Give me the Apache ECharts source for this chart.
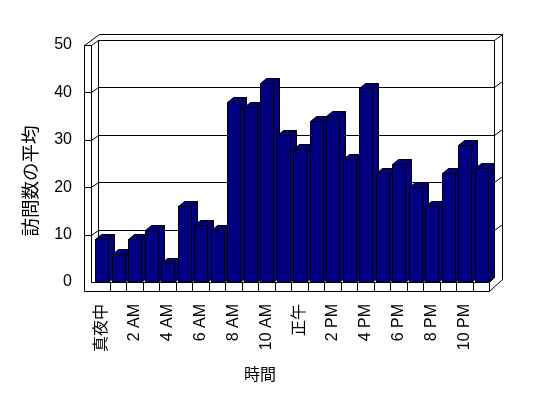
<!DOCTYPE html>
<html>
<head>
<meta charset="utf-8">
<script src="https://cdn.jsdelivr.net/npm/echarts@6/dist/echarts.min.js"></script>
<style>html,body{margin:0;padding:0;background:#fff}#c{width:548px;height:398px}</style>
</head>
<body>
<div id="c"></div>
<script>
const hours = ['真夜中','1 AM','2 AM','3 AM','4 AM','5 AM','6 AM','7 AM','8 AM','9 AM','10 AM','11 AM',
               '正午','1 PM','2 PM','3 PM','4 PM','5 PM','6 PM','7 PM','8 PM','9 PM','10 PM','11 PM'];
const visits = [9,6,9,11,4,16,12,11,38,37,42,31,28,34,35,26,41,23,25,20,16,23,29,24];
const yTicks = [0,10,20,30,40,50];
const xTitle = '時間';
const yTitle = '訪問数の平均';

const FONT = "'Liberation Sans','Noto Sans CJK JP',sans-serif";
const chart = echarts.init(document.getElementById('c'), null, {renderer:'canvas'});

function c(v){ return Math.round(v) + 0.5; }
function line(x1,y1,x2,y2){
  return {type:'line', shape:{x1:c(x1),y1:c(y1),x2:c(x2),y2:c(y2)}, style:{stroke:'#000', lineWidth:1}};
}

function renderFrame(params, api){
  const cs = params.coordSys;
  const L = cs.x, R = cs.x + cs.width, T = cs.y, B = cs.y + cs.height;
  const xo = L - 9, xi = L - 2;
  const dx = 7, dy = -5;
  const bl = xi + dx, br = R + 5;
  const ro = R + 13;
  const ch = [];
  ch.push(line(xo, T, xo, B+9));
  ch.push(line(xi, T, xi, B));
  ch.push(line(xo, T, xi, T));
  ch.push(line(xo, T, bl+1, T-11));
  ch.push(line(xi, T, bl, T+dy));
  ch.push(line(bl+1, T-11, ro, T-11));
  ch.push(line(bl, T+dy, br, T+dy));
  ch.push(line(br, T+dy, ro, T-11));
  ch.push(line(bl, T+dy, bl, B+dy));
  ch.push(line(br, T+dy, br, B+dy));
  ch.push(line(ro, T-11, ro, B-3));
  yTicks.forEach(function(v){
    if (v === 0 || v === 50) return;
    const y = api.coord([0, v])[1];
    ch.push(line(xo, y, xi, y));
    ch.push(line(xi, y, bl, y+dy));
    ch.push(line(bl, y+dy, br, y+dy));
    ch.push(line(br, y+dy, ro, y+dy-6));
  });
  ch.push(line(xi, B, R, B));
  ch.push(line(xo, B+9, R, B+9));
  ch.push(line(R, B, R, B+9));
  ch.push(line(bl, B+dy, br, B+dy));
  ch.push(line(R, B, br, B+dy));
  ch.push(line(R, B+9, ro, B-3));
  const n = hours.length;
  for (let i = 1; i < n; i++){
    const x = L + i * cs.width / n;
    ch.push(line(x, B, x, B+9));
  }
  return {type:'group', children:ch};
}

function renderBar(params, api){
  const i = api.value(0), v = api.value(1);
  const p = api.coord([i, v]);
  const b = api.coord([i, 0]);
  const w = 13, dx = 6, dy = -5;
  const fl = c(p[0] - 6), fr = fl + w, top = c(p[1]), base = c(b[1]);
  const st = {fill:'#000080', stroke:'#000', lineWidth:1};
  return {type:'group', children:[
    {type:'polygon', shape:{points:[[fr,top],[fr+dx,top+dy],[fr+dx,base+dy],[fr,base]]}, style:st},
    {type:'polygon', shape:{points:[[fl,top],[fl+dx,top+dy],[fr+dx,top+dy],[fr,top]]}, style:st},
    {type:'rect', shape:{x:fl, y:top, width:w, height:base-top}, style:st}
  ]};
}

chart.setOption({
  animation:false,
  backgroundColor:'#fff',
  grid:{left:93, right:59, top:45, bottom:116},
  xAxis:{type:'category', data:hours, boundaryGap:true,
    axisLine:{show:false}, axisTick:{show:false}, splitLine:{show:false},
    axisLabel:{interval:1, rotate:90, margin:22, color:'#000', fontSize:16, fontFamily:FONT}},
  yAxis:{type:'value', min:0, max:50, interval:10,
    axisLine:{show:false}, axisTick:{show:false}, splitLine:{show:false},
    axisLabel:{margin:21, color:'#000', fontSize:16, fontFamily:FONT}},
  graphic:[
    {type:'text', left:244, top:366, style:{text:xTitle, font:"16px 'Noto Sans CJK JP'", fill:'#000'}},
    {type:'text', x:30, y:181, rotation:Math.PI/2, style:{text:yTitle, font:"18.5px 'Noto Sans CJK JP'", fill:'#000', align:'center', verticalAlign:'middle'}}
  ],
  series:[
    {type:'custom', name:'frame', silent:true, z:1, data:[[0,0]], encode:{x:0,y:1}, renderItem:renderFrame},
    {type:'custom', name:'visits', z:2, data:visits.map(function(v,i){return [i,v];}), encode:{x:0,y:1}, renderItem:renderBar}
  ]
});
</script>
</body>
</html>
